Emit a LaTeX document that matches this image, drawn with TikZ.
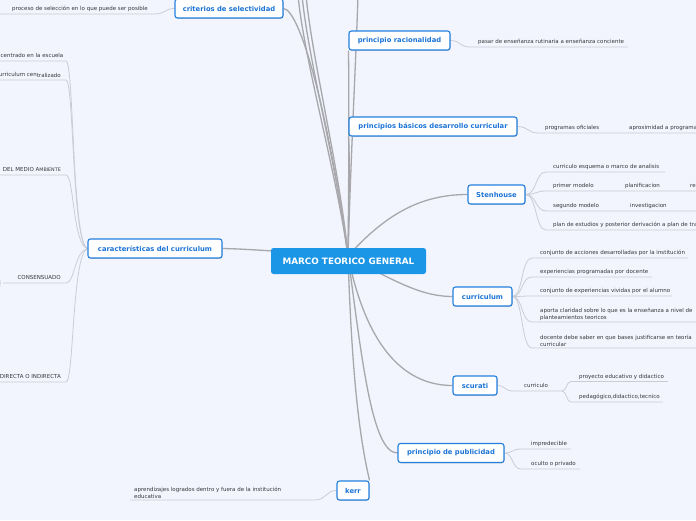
\documentclass[tikz,border=0pt]{standalone}
\usepackage{fontspec}
\setmainfont{DejaVu Sans}
\usetikzlibrary{shadows}
\definecolor{bgc}{RGB}{242,245,253}
\definecolor{bordc}{RGB}{36,128,222}
\definecolor{txtc}{RGB}{28,116,214}
\definecolor{cfill}{RGB}{27,150,230}
\definecolor{mainln}{RGB}{168,168,172}
\definecolor{subln}{RGB}{202,205,214}
\definecolor{leaft}{RGB}{55,55,60}
\pgfdeclarelayer{bgl}
\pgfsetlayers{bgl,main}
\tikzset{
  topic/.style={draw=bordc, fill=white, rounded corners=2.5pt, line width=1.1pt,
    text=txtc, font=\fontsize{6.8}{8}\selectfont\bfseries, minimum height=19pt, inner sep=0pt,
    general shadow={shadow xshift=0.5pt, shadow yshift=-0.8pt, fill=black!22}},
  root/.style={fill=cfill, rounded corners=2.5pt, text=white,
    font=\fontsize{8.8}{10}\selectfont\bfseries, minimum height=26pt, minimum width=155pt, inner sep=0pt},
  leaf/.style={text=leaft, font=\fontsize{5.5}{6.3}\selectfont, inner sep=0pt, anchor=base west},
  leafr/.style={leaf, anchor=base east},
  leafm/.style={text=leaft, font=\fontsize{5.5}{6.3}\selectfont, inner sep=0pt, anchor=south west, align=left},
  mainline/.style={draw=mainln, line width=1.3pt},
  subline/.style={draw=subln, line width=0.8pt},
}
\begin{document}
\begin{tikzpicture}[x=1pt,y=-1pt]
\useasboundingbox (0,0) rectangle (696,520);
\clip (0,0) rectangle (696,520);
% ---------- topics
\node[root] (mtg) at (348.5,261) {MARCO TEORICO GENERAL};
\node[topic, minimum width=108pt] (crit) at (229,8.5) {criterios de selectividad};
\node[topic, minimum width=101pt] (rac) at (399.5,40.5) {principio racionalidad};
\node[topic, minimum width=168pt] (pbd) at (433,126.5) {principios básicos desarrollo curricular};
\node[topic, minimum width=57pt] (sten) at (496.5,194.5) {Stenhouse};
\node[topic, minimum width=59pt] (curr) at (482.5,296.5) {curriculum};
\node[topic, minimum width=44pt] (scu) at (475,385.5) {scurati};
\node[topic, minimum width=106pt] (pub) at (451,453) {principio de publicidad};
\node[topic, minimum width=32pt] (kerr) at (353,490.5) {kerr};
\node[topic, minimum width=134pt] (car) at (155,248.5) {características del curriculum};
% ---------- leaves
\node[leaf] (c1) at (12,10.5) {proceso de selección en lo que puede ser posible};
\node[leaf] (r1) at (478,43.5) {pasar de enseñanza rutinaria a enseñanza conciente};
\node[leaf] (p1) at (545,129.5) {programas oficiales};
\node[leaf] (p2) at (629,129.5) {aproximidad a programa};
\node[leaf] (s1) at (553,168.5) {curriculo esquema o marco de analisis};
\node[leaf] (s2) at (553,187.5) {primer modelo};
\node[leaf] (s2a) at (625,187.5) {planificacion};
\node[leaf] (s2b) at (690,187.5) {re};
\node[leaf] (s3) at (553,207.5) {segundo modelo};
\node[leaf] (s3a) at (630,207.5) {investigacion};
\node[leaf] (s4) at (553,226.5) {plan de estudios y posterior derivación a plan de tra};
\node[leaf] (u1) at (540,254.5) {conjunto de acciones desarrolladas por la institución};
\node[leaf] (u2) at (540,273.5) {experiencias programadas por docente};
\node[leaf] (u3) at (540,292.5) {conjunto de experiencias vividas por el alumno};
\node[leafm] (u4) at (540,320.5) {aporta claridad sobre lo que es la enseñanza a nivel de\\planteamientos teoricos};
\node[leafm] (u5) at (540,346.5) {docente debe saber en que bases justificarse en teoría\\curricular};
\node[leaf] (k1) at (524,387.5) {curriculo};
\node[leaf] (k2) at (579,378) {proyecto educativo y didactico};
\node[leaf] (k3) at (579,398.5) {pedagógico,didactico,tecnico};
\node[leaf] (b1) at (531,445.5) {impredecible};
\node[leaf] (b2) at (531,465.5) {oculto o privado};
\node[leafm] (e1) at (134,498.5) {aprendizajes logrados dentro y fuera de la institución\\educativa};
\node[leaf] (a1) at (0.5,57.5) {centrado en la escuela};
\node[leafr] (a2) at (61,76.5) {curriculum cen\raisebox{-0.7pt}{tralizado}};
\node[leafr] (a3) at (61,171.5) {DEL MEDIO A{\fontsize{4.8}{5}\selectfont MBIENTE}};
\node[leafr] (a4) at (61,279.5) {CONSENSUADO};
\node[leafr] (a5) at (61,378.5) {DIRECTA O INDIRECTA};
% ---------- coordinates
\coordinate (hub) at (348,256);
\coordinate (c1s) at (155,14);  \coordinate (c1e) at (-5,14);
\coordinate (r1s) at (470,47);  \coordinate (r1e) at (628,47);
\coordinate (p1s) at (538,133); \coordinate (p1e) at (700,133);
\coordinate (s1s) at (546,172); \coordinate (s1e) at (665,172);
\coordinate (s2s) at (546,191); \coordinate (s2e) at (700,191);
\coordinate (s3s) at (546,211); \coordinate (s3e) at (700,211);
\coordinate (s4s) at (546,230); \coordinate (s4e) at (700,230);
\coordinate (u1s) at (532,258); \coordinate (u1e) at (688,258);
\coordinate (u2s) at (532,277); \coordinate (u2e) at (652,277);
\coordinate (u3s) at (532,296); \coordinate (u3e) at (672,296);
\coordinate (u4s) at (532,322); \coordinate (u4e) at (700,322);
\coordinate (u5s) at (532,348); \coordinate (u5e) at (700,348);
\coordinate (k1s) at (512,391); \coordinate (k1e) at (562,391);
\coordinate (k2s) at (571,381.5); \coordinate (k2e) at (668,381.5);
\coordinate (k3s) at (571,402); \coordinate (k3e) at (663,402);
\coordinate (b1s) at (521,449); \coordinate (b1e) at (571,449);
\coordinate (b2s) at (521,469); \coordinate (b2e) at (580,469);
\coordinate (e1s) at (315,500); \coordinate (e1e) at (130,500);
\coordinate (a1s) at (66,61);  \coordinate (a1e) at (-5,61);
\coordinate (a2s) at (66,80);  \coordinate (a2e) at (-5,80);
\coordinate (a3s) at (66,175); \coordinate (a3e) at (-5,175);
\coordinate (a4s) at (66,283); \coordinate (a4e) at (3,283);
\coordinate (a5s) at (66,382); \coordinate (a5e) at (-5,382);
\coordinate (t1) at (298,-5); \coordinate (t2) at (302,-5); \coordinate (t3) at (306,-5);
\coordinate (t4) at (358,-5);
% ---------- connectors
\begin{pgfonlayer}{bgl}
\fill[bgc] (0,0) rectangle (696,520);
\clip (0,0) rectangle (696,520);
% main
\path[mainline] (car.east) .. controls (245,249) and (258,250) .. (hub);
\path[mainline] (crit.east) .. controls (300,10) and (328,110) .. (hub);
\path[mainline] (hub) .. controls (336,170) and (304,60) .. (t1);
\path[mainline] (hub) .. controls (338,170) and (308,60) .. (t2);
\path[mainline] (hub) .. controls (340,170) and (312,60) .. (t3);
\path[mainline] (hub) .. controls (351,150) and (356,60) .. (t4);
\path[mainline] (hub) .. controls (349,170) and (349,80) .. (rac.south west);
\path[mainline] (hub) .. controls (349,200) and (350,160) .. (pbd.south west);
\path[mainline] (hub) .. controls (385,215) and (420,194.5) .. (sten.west);
\path[mainline] (hub) .. controls (400,285) and (425,296.5) .. (curr.west);
\path[mainline] (hub) .. controls (365,340) and (400,385.5) .. (scu.west);
\path[mainline] (hub) .. controls (362,360) and (372,453) .. (pub.west);
\path[mainline] (hub) .. controls (352,380) and (360,440) .. (kerr.north east);
% sub
\path[subline] (crit.west) .. controls (165,8.5) and (165,14) .. (c1s) -- (c1e);
\path[subline] (rac.east) .. controls (460,40.5) and (460,47) .. (r1s) -- (r1e);
\path[subline] (pbd.east) .. controls (528,126.5) and (528,133) .. (p1s) -- (p1e);
\path[subline] (sten.east) .. controls (537,194.5) and (535,172) .. (s1s) -- (s1e);
\path[subline] (sten.east) .. controls (537,194.5) and (535,191) .. (s2s) -- (s2e);
\path[subline] (sten.east) .. controls (537,194.5) and (535,211) .. (s3s) -- (s3e);
\path[subline] (sten.east) .. controls (537,194.5) and (535,230) .. (s4s) -- (s4e);
\path[subline] (curr.east) .. controls (523,296.5) and (521,258) .. (u1s) -- (u1e);
\path[subline] (curr.east) .. controls (523,296.5) and (521,277) .. (u2s) -- (u2e);
\path[subline] (curr.east) .. controls (523,296.5) and (521,296) .. (u3s) -- (u3e);
\path[subline] (curr.east) .. controls (523,296.5) and (521,322) .. (u4s) -- (u4e);
\path[subline] (curr.east) .. controls (523,296.5) and (521,348) .. (u5s) -- (u5e);
\path[subline] (scu.east) .. controls (505,385.5) and (505,391) .. (k1s) -- (k1e);
\path[subline] (k1e) .. controls (567,391) and (566,381.5) .. (k2s) -- (k2e);
\path[subline] (k1e) .. controls (567,391) and (566,402) .. (k3s) -- (k3e);
\path[subline] (pub.east) .. controls (513,453) and (512,449) .. (b1s) -- (b1e);
\path[subline] (pub.east) .. controls (513,453) and (512,469) .. (b2s) -- (b2e);
\path[subline] (kerr.west) .. controls (326,490.5) and (326,500) .. (e1s) -- (e1e);
\path[subline] (a1e) -- (a1s) .. controls (74,61) and (72,244) .. (car.west);
\path[subline] (a2e) -- (a2s) .. controls (74,80) and (72,244) .. (car.west);
\path[subline] (a3e) -- (a3s) .. controls (74,175) and (73,246) .. (car.west);
\path[subline] (a4e) -- (a4s) .. controls (75,283) and (74,252) .. (car.west);
\path[subline] (a5e) -- (a5s) .. controls (74,382) and (72,254) .. (car.west);
\path[subline] (-8,272) .. controls (3,274) and (3,292) .. (-8,294);
\end{pgfonlayer}
\end{tikzpicture}
\end{document}
